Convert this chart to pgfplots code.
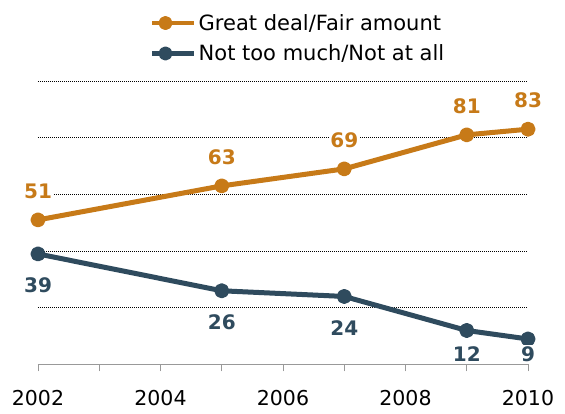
\documentclass[border=0pt]{standalone}
\usepackage{fontspec}
\setmainfont{DejaVu Sans}
\usepackage{pgfplots}
\pgfplotsset{compat=1.18}
\usepackage{pgfplotstable}
\definecolor{gold}{RGB}{199,122,24}
\definecolor{slate}{RGB}{47,75,94}
\pgfplotstableread{
x y
2002 51
2005 63
2007 69
2009 81
2010 83
}\great
\pgfplotstableread{
x y
2002 39
2005 26
2007 24
2009 12
2010 9
}\nottoo
\begin{document}
\begin{tikzpicture}
\path[use as bounding box] (-38pt,-49.5pt) rectangle (527pt,364.5pt);
\begin{axis}[
 at={(0,0)}, anchor=south west,
 scale only axis, width=490pt, height=283.5pt,
 xmin=2002, xmax=2010, ymin=0, ymax=100,
 clip=false,
 separate axis lines,
 axis x line=bottom,
 axis y line=left,
 y axis line style={draw=none},
 x axis line style={-, draw=gray!80, line width=0.8pt},
 xtick={2002,2004,...,2010},
 minor xtick={2003,2005,...,2009},
 xticklabels={2002,2004,2006,2008,2010},
 tick align=outside,
 major tick length=7pt, minor tick length=7pt,
 x tick style={draw=gray!80, line width=0.8pt},
 ytick={20,40,60,80,100},
 yticklabels={},
 y tick style={draw=none},
 ymajorgrids,
 y grid style={black, line width=0.7pt, dash pattern=on 0.7pt off 1.3pt},
 xticklabel style={font=\fontsize{20.5}{24}\selectfont, yshift=-15pt},
 /pgf/number format/assume math mode=true,
 legend style={at={(axis description cs:0.2286,1.243)}, anchor=north west, draw=none, fill=none, inner sep=0pt, font=\fontsize{21}{24}\selectfont, row sep=9pt},
 legend cell align=left,
 legend image code/.code={\draw[#1, mark=none, line width=4.5pt] (0pt,0pt) -- (42pt,0pt); \fill[#1] (13pt,0pt) circle (4.5pt);},
 lab/.style={draw=none, mark=none, forget plot, nodes near coords, point meta=explicit symbolic,
   every node near coord/.append style={anchor=center, yshift=#1, font=\bfseries\fontsize{20}{20}\selectfont, fill=white, inner sep=1pt}},
]
\addplot[gold, line width=5pt, line join=round, mark=*, mark size=5pt, mark options={solid}] table[x=x, y=y] {\great};
\addlegendentry{Great deal/Fair amount}
\addplot[slate, line width=5pt, line join=round, mark=*, mark size=5pt, mark options={solid}] table[x=x, y=y] {\nottoo};
\addlegendentry{Not too much/Not at all}
% value labels
\addplot[lab=28.75pt, every node near coord/.append style={text=gold}] table[x=x, y=y, meta=y] {\great};
\addplot[lab=-31.5pt, every node near coord/.append style={text=slate}] table[x=x, y=y, meta=y] {
x y
2002 39
2005 26
2007 24
};
\addplot[lab=-23.5pt, every node near coord/.append style={text=slate}] table[x=x, y=y, meta=y] {
x y
2009 12
};
\addplot[lab=-15pt, every node near coord/.append style={text=slate}] table[x=x, y=y, meta=y] {
x y
2010 9
};
\end{axis}
\end{tikzpicture}
\end{document}
